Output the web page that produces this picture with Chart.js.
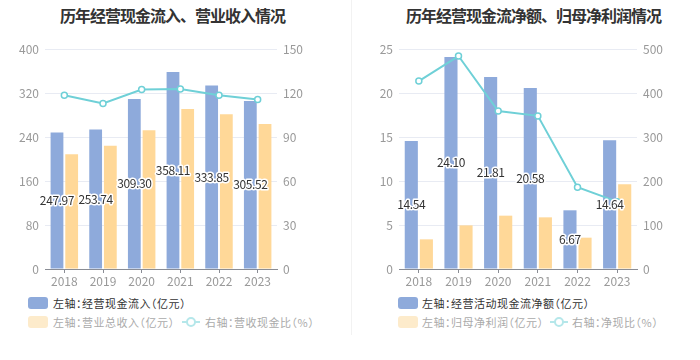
<!DOCTYPE html>
<html>
<head>
<meta charset="utf-8">
<script src="https://cdn.jsdelivr.net/npm/chart.js@4/dist/chart.umd.min.js"></script>
<style>
  body { margin: 0; background: #fff; font-family: 'Noto Sans CJK SC', sans-serif; }
  #wrap { position: relative; width: 700px; height: 360px; overflow: hidden; }
  .panel { position: absolute; top: 0; width: 350px; height: 360px; }
  .panel canvas { position: absolute; left: 0; top: 0; }
  .title { position: absolute; top: 3px; font-size: 16px; font-weight: bold; color: #333; white-space: nowrap; letter-spacing: -1px; }
  .divider { position: absolute; left: 351px; top: 0; width: 1px; height: 335px; background: #f2f2f2; }
  .leg { position: absolute; font-size: 11px; white-space: nowrap; line-height: 16px; font-feature-settings: "halt"; letter-spacing: 0.5px; }
  .sw { position: absolute; width: 20px; height: 12px; border-radius: 3px; }
  .ln { position: absolute; width: 18px; height: 12px; }
  .ln:before { content: ''; position: absolute; left: 0; top: 5px; width: 18px; height: 2px; background: #b5e7ea; }
  .ln:after { content: ''; position: absolute; left: 4px; top: 1px; width: 6px; height: 6px; border: 2px solid #b5e7ea; border-radius: 50%; background: #fff; }
</style>
</head>
<body>
<div id="wrap">
  <div class="panel" style="left:0">
    <div class="title" style="left:60px">历年经营现金流入、营业收入情况</div>
    <canvas id="leftChart" width="350" height="290"></canvas>
    <div class="sw" style="left:28px;top:297px;background:#8eaadb"></div>
    <div class="leg" style="left:53px;top:295px;color:#333">左轴：经营现金流入（亿元）</div>
    <div class="sw" style="left:28px;top:316px;background:#fdebcb"></div>
    <div class="leg" style="left:53px;top:314px;color:#aaa">左轴：营业总收入（亿元）</div>
    <div class="ln" style="left:182px;top:316px"></div>
    <div class="leg" style="left:205px;top:314px;color:#aaa">右轴：营收现金比（%）</div>
  </div>
  <div class="divider"></div>
  <div class="panel" style="left:350px">
    <div class="title" style="left:56px">历年经营现金流净额、归母净利润情况</div>
    <canvas id="rightChart" width="350" height="290"></canvas>
    <div class="sw" style="left:48px;top:297px;background:#8eaadb"></div>
    <div class="leg" style="left:72px;top:295px;color:#333">左轴：经营活动现金流净额（亿元）</div>
    <div class="sw" style="left:48px;top:316px;background:#fdebcb"></div>
    <div class="leg" style="left:72px;top:314px;color:#aaa">左轴：归母净利润（亿元）</div>
    <div class="ln" style="left:200px;top:316px"></div>
    <div class="leg" style="left:222px;top:314px;color:#aaa">右轴：净现比（%）</div>
  </div>
</div>
<script>
// data
const years = ['2018', '2019', '2020', '2021', '2022', '2023'];

const cashInflow = [247.97, 253.74, 309.30, 358.11, 333.85, 305.52];
const revenue = [208.5, 224.2, 252.1, 290.9, 281.2, 263.6];
const cashRevenueRatio = [118.5, 112.8, 122.4, 122.7, 118.4, 115.5];

const netCashFlow = [14.54, 24.10, 21.81, 20.58, 6.67, 14.64];
const netProfit = [3.37, 4.96, 6.06, 5.87, 3.56, 9.62];
const netCashRatio = [427, 484, 359, 348, 186, 153];

const BLUE = '#8eaadb';
const YELLOW = '#ffd898';
const CYAN = '#6fd0d7';

Chart.defaults.font.family = "'Noto Sans CJK SC', sans-serif";
Chart.defaults.font.size = 12;
Chart.defaults.color = '#999';

// value labels in the middle of the blue bars (dataset 0)
const barLabels = {
    id: 'barLabels',
    afterDatasetsDraw(chart) {
        const ctx = chart.ctx;
        const meta = chart.getDatasetMeta(0);
        const data = chart.data.datasets[0].data;
        ctx.save();
        ctx.font = "12px 'Noto Sans CJK SC', sans-serif";
        ctx.letterSpacing = '-0.4px';
        ctx.textAlign = 'center';
        ctx.textBaseline = 'middle';
        ctx.lineWidth = 3;
        ctx.lineJoin = 'round';
        ctx.strokeStyle = '#fff';
        ctx.fillStyle = '#333';
        meta.data.forEach((bar, i) => {
            const y = (bar.y + bar.base) / 2;
            const txt = data[i].toFixed(2);
            ctx.strokeText(txt, bar.x, y);
            ctx.fillText(txt, bar.x, y);
        });
        ctx.restore();
    }
};

function makeChart(id, bars1, bars2, line, leftMax, leftStep, rightMax, rightStep, leftW, rightW) {
    const ctx = document.getElementById(id).getContext('2d');
    return new Chart(ctx, {
        data: {
            labels: years,
            datasets: [
                { type: 'bar', data: bars1, yAxisID: 'y', backgroundColor: BLUE,
                  barPercentage: 0.87, categoryPercentage: 0.76, order: 1 },
                { type: 'bar', data: bars2, yAxisID: 'y', backgroundColor: YELLOW,
                  barPercentage: 0.87, categoryPercentage: 0.76, order: 1 },
                { type: 'line', data: line, yAxisID: 'y1', borderColor: CYAN, borderWidth: 2,
                  pointRadius: 3, pointBorderWidth: 1.5, pointBackgroundColor: '#fff',
                  pointBorderColor: CYAN, tension: 0, order: 0 }
            ]
        },
        options: {
            responsive: false,
            animation: false,
            layout: { padding: { top: 49, bottom: 0, left: 0, right: 0 } },
            plugins: { legend: { display: false }, tooltip: { enabled: false } },
            scales: {
                x: {
                    offset: true,
                    grid: { display: true, drawOnChartArea: false, offset: false, tickLength: 4, color: '#8a8d95' },
                    border: { display: true, color: '#8a8d95' },
                    ticks: { padding: 1, color: '#999' },
                    afterFit(s) { s.height = 21; }
                },
                y: {
                    position: 'left', min: 0, max: leftMax,
                    ticks: { stepSize: leftStep, padding: 6, color: '#999' },
                    grid: { color: '#e8ebf3', drawTicks: false },
                    border: { display: false },
                    afterFit(s) { s.width = leftW; }
                },
                y1: {
                    position: 'right', min: 0, max: rightMax,
                    ticks: { stepSize: rightStep, padding: 6, color: '#999' },
                    grid: { drawOnChartArea: false, drawTicks: false },
                    border: { display: false },
                    afterFit(s) { s.width = rightW; }
                }
            }
        },
        plugins: [barLabels]
    });
}

makeChart('leftChart', cashInflow, revenue, cashRevenueRatio, 400, 80, 150, 30, 45, 73);
makeChart('rightChart', netCashFlow, netProfit, netCashRatio, 25, 5, 500, 100, 49, 63);
</script>
</body>
</html>
